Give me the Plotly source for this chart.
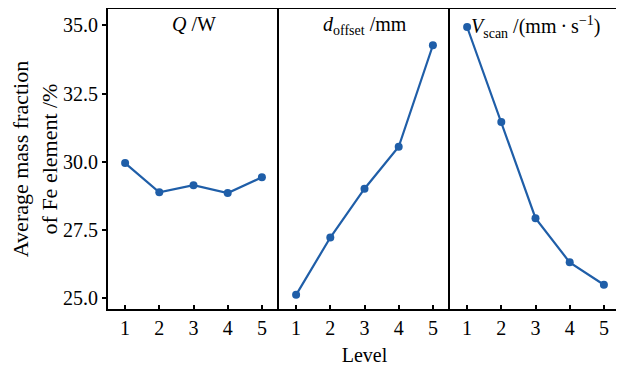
import plotly.graph_objects as go
from plotly.subplots import make_subplots

levels = [1, 2, 3, 4, 5]
q_values = [29.95, 28.88, 29.14, 28.85, 29.43]
d_values = [25.12, 27.22, 29.01, 30.55, 34.27]
v_values = [34.94, 31.46, 27.93, 26.31, 25.49]
panel_titles = ["<i>Q</i> /W", "<i>d</i><sub>offset</sub> /mm",
                "<i>V</i><sub>scan</sub> /(mm\u2009\u00b7\u2009s<sup>\u22121</sup>)"]
y_ticks = [25.0, 27.5, 30.0, 32.5, 35.0]
y_ticklabels = ["25.0", "27.5", "30.0", "32.5", "35.0"]

FONT = "Liberation Serif, DejaVu Serif, serif"
COLOR = "#1f5ea8"
FS = 20

fig = make_subplots(rows=1, cols=3, shared_yaxes=True, horizontal_spacing=0)

for i, vals in enumerate([q_values, d_values, v_values]):
    fig.add_trace(go.Scatter(x=levels, y=vals, mode="lines+markers",
                             line=dict(color=COLOR, width=2.2),
                             marker=dict(color=COLOR, size=8),
                             showlegend=False), row=1, col=i + 1)

for i in range(3):
    fig.update_xaxes(range=[0.5, 5.5], tickvals=levels, ticks="inside", ticklen=4,
                     tickwidth=1.5, tickcolor="black", showline=True, linecolor="black",
                     linewidth=2, mirror=True, showgrid=False, zeroline=False,
                     automargin=False,
                     tickfont=dict(family=FONT, size=FS, color="black"),
                     row=1, col=i + 1)
    fig.update_yaxes(range=[24.6, 35.6], showline=True, linecolor="black", linewidth=2,
                     mirror=(i == 2), showgrid=False, zeroline=False, automargin=False,
                     row=1, col=i + 1)
    fig.add_annotation(text=panel_titles[i], xref=f"x{'' if i == 0 else i + 1} domain",
                       yref="paper", x=0.5, y=0.995, xanchor="center", yanchor="top",
                       showarrow=False, font=dict(family=FONT, size=FS, color="black"))

fig.update_yaxes(tickvals=y_ticks, ticktext=y_ticklabels, ticks="outside", ticklen=4,
                 tickwidth=1.5, tickcolor="black",
                 tickfont=dict(family=FONT, size=FS, color="black"),
                 title=dict(text="Average mass fraction<br>of Fe element /%",
                            font=dict(family=FONT, size=22, color="black"), standoff=6),
                 row=1, col=1)
fig.update_xaxes(title=dict(text="Level", font=dict(family=FONT, size=FS, color="black"),
                            standoff=10), row=1, col=2)

fig.update_layout(width=616, height=361, margin=dict(l=100, r=3, t=1, b=60),
                  plot_bgcolor="white", paper_bgcolor="white")

fig.write_html("out.html")
